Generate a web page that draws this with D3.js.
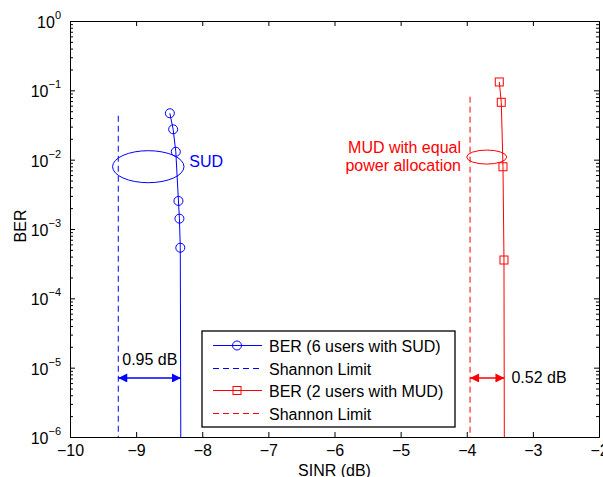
<!DOCTYPE html>
<html>
<head>
<meta charset="utf-8">
<script src="https://cdn.jsdelivr.net/npm/d3@7"></script>
<style>
  body { margin: 0; background: #fff; }
  text { font-family: "Liberation Sans", Arial, Helvetica, sans-serif; }
</style>
</head>
<body>
<div id="chart"></div>
<script>
// SUD curve (6 users)
var sudSinr = [-8.49, -8.44, -8.40, -8.36, -8.345, -8.332, -8.322];
var sudBer = [0.0467, 0.0274, 0.0130, 0.00254, 0.00141, 0.000537, 1e-7];
var sudMarked = 6; // points with markers
// MUD curve (2 users)
var mudSinr = [-3.508, -3.478, -3.452, -3.437, -3.430];
var mudBer = [0.132, 0.0672, 0.0079, 0.000357, 1e-7];
var mudMarked = 4;
// Shannon limits
var shannonSud = -9.27;
var shannonMud = -3.95;
var shannonSudTop = 0.043;
var shannonMudTop = 0.081;

var xTicks = [-10, -9, -8, -7, -6, -5, -4, -3, -2];
var yDecades = [0, -1, -2, -3, -4, -5, -6];

var legendLabels = ["BER (6 users with SUD)", "Shannon Limit", "BER (2 users with MUD)", "Shannon Limit"];

const w = 603;
const h = 477;
const pLeft = 70, pRight = 599, pTop = 21, pBottom = 437;
const fs = 16;

const svg = d3.select("#chart").append("svg")
    .attr("width", w)
    .attr("height", h);

const xScale = d3.scaleLinear().domain([-10, -2]).range([pLeft, pRight]);
const yScale = d3.scaleLog().domain([1e-6, 1]).range([pBottom, pTop]);

const blue = "#0000ff";
const red = "#ff0000";

svg.append("defs").append("clipPath").attr("id", "clip")
    .append("rect")
    .attr("x", pLeft).attr("y", pTop)
    .attr("width", pRight - pLeft).attr("height", pBottom - pTop);

// minor + major tick values for log axis
var yAll = [];
for (var k = -6; k < 0; k++) {
    for (var m = 1; m < 10; m++) yAll.push(m * Math.pow(10, k));
}
yAll.push(1);
var isMajor = (v) => Math.abs(Math.log10(v) - Math.round(Math.log10(v))) < 1e-9;

// Axes
svg.append("g")
    .attr("transform", "translate(0," + pBottom + ")")
    .call(d3.axisBottom(xScale).tickValues(xTicks).tickSize(-5).tickPadding(8).tickFormat(d => d === 0 ? "0" : "\u2212" + Math.abs(d)))
    .call(g => g.selectAll("text").attr("font-size", fs).attr("fill", "#000").attr("font-family", "Liberation Sans, Arial"));

svg.append("g")
    .attr("transform", "translate(0," + pTop + ")")
    .call(d3.axisTop(xScale).tickValues(xTicks).tickSize(-5).tickFormat(""));

svg.append("g")
    .attr("transform", "translate(" + pLeft + ",0)")
    .call(d3.axisLeft(yScale).tickValues(yAll).tickSize(0).tickFormat(""))
    .call(g => g.selectAll(".tick line").attr("x2", d => isMajor(d) ? 5 : 3));

svg.append("g")
    .attr("transform", "translate(" + pRight + ",0)")
    .call(d3.axisRight(yScale).tickValues(yAll).tickSize(0).tickFormat(""))
    .call(g => g.selectAll(".tick line").attr("x2", d => isMajor(d) ? -5 : -3));

svg.selectAll(".domain").attr("stroke", "#000");
svg.selectAll(".tick line").attr("stroke", "#000");

// y tick labels 10^k
var yl = svg.append("g").selectAll("text")
    .data(yDecades)
    .enter()
    .append("text")
    .attr("x", pLeft - 9)
    .attr("y", d => yScale(Math.pow(10, d)) + 7)
    .attr("text-anchor", "end")
    .attr("font-size", fs);
yl.append("tspan").text("10");
yl.append("tspan").attr("dy", -9).attr("font-size", 11).text(d => d === 0 ? "0" : "\u2212" + Math.abs(d));

// axis titles
svg.append("text")
    .attr("x", (pLeft + pRight) / 2)
    .attr("y", 476)
    .attr("text-anchor", "middle")
    .attr("font-size", fs)
    .text("SINR (dB)");

svg.append("text")
    .attr("transform", "translate(26," + ((pTop + pBottom) / 2 - 3) + ") rotate(-90)")
    .attr("text-anchor", "middle")
    .attr("font-size", fs)
    .text("BER");

const plot = svg.append("g").attr("clip-path", "url(#clip)");

const line = d3.line().x(d => xScale(d[0])).y(d => yScale(d[1]));

var sud = sudSinr.map((x, i) => [x, sudBer[i]]);
var mud = mudSinr.map((x, i) => [x, mudBer[i]]);

// Shannon limits
plot.append("line")
    .attr("x1", xScale(shannonSud)).attr("x2", xScale(shannonSud))
    .attr("y1", yScale(shannonSudTop)).attr("y2", yScale(1e-7))
    .attr("stroke", blue).attr("stroke-width", 1).attr("stroke-dasharray", "6,4");
plot.append("line")
    .attr("x1", xScale(shannonMud)).attr("x2", xScale(shannonMud))
    .attr("y1", yScale(shannonMudTop)).attr("y2", yScale(1e-7))
    .attr("stroke", red).attr("stroke-width", 1).attr("stroke-dasharray", "6,4");

// BER curves
plot.append("path").datum(sud).attr("d", line)
    .attr("fill", "none").attr("stroke", blue).attr("stroke-width", 1);
plot.append("path").datum(mud).attr("d", line)
    .attr("fill", "none").attr("stroke", red).attr("stroke-width", 1);

plot.selectAll(".sudpt")
    .data(sud.slice(0, sudMarked))
    .enter()
    .append("circle")
    .attr("class", "sudpt")
    .attr("cx", d => xScale(d[0]))
    .attr("cy", d => yScale(d[1]))
    .attr("r", 4.5)
    .attr("fill", "none").attr("stroke", blue);

plot.selectAll(".mudpt")
    .data(mud.slice(0, mudMarked))
    .enter()
    .append("rect")
    .attr("class", "mudpt")
    .attr("x", d => xScale(d[0]) - 4)
    .attr("y", d => yScale(d[1]) - 4)
    .attr("width", 8).attr("height", 8)
    .attr("fill", "none").attr("stroke", red);

// Annotations: ellipses
svg.append("ellipse")
    .attr("cx", xScale(-8.816)).attr("cy", yScale(0.00792))
    .attr("rx", 35.7).attr("ry", 16)
    .attr("fill", "none").attr("stroke", blue);
svg.append("text")
    .attr("x", xScale(-8.816) + 41).attr("y", yScale(0.00792) + 0.5)
    .attr("fill", blue).attr("font-size", fs)
    .text("SUD");

svg.append("ellipse")
    .attr("cx", xScale(-3.698)).attr("cy", yScale(0.0109))
    .attr("rx", 20).attr("ry", 7)
    .attr("fill", "none").attr("stroke", red);
var mt = svg.append("text")
    .attr("text-anchor", "end")
    .attr("fill", red).attr("font-size", fs);
mt.append("tspan").attr("x", 461).attr("y", 153).text("MUD with equal");
mt.append("tspan").attr("x", 461).attr("y", 171).text("power allocation");

// Gap arrows
var defs = svg.select("defs");
[["ab", blue], ["ar", red]].forEach(([id, c]) => {
    defs.append("marker")
        .attr("id", id)
        .attr("viewBox", "0 0 10 10")
        .attr("refX", 10).attr("refY", 5)
        .attr("markerWidth", 11).attr("markerHeight", 9)
        .attr("markerUnits", "userSpaceOnUse")
        .attr("orient", "auto-start-reverse")
        .append("path").attr("d", "M0,0L10,5L0,10Z").attr("fill", c);
});

var arrowY = 7.1e-6;
svg.append("line")
    .attr("x1", xScale(shannonSud)).attr("x2", xScale(-8.322))
    .attr("y1", yScale(arrowY)).attr("y2", yScale(arrowY))
    .attr("stroke", blue).attr("stroke-width", 1.5)
    .attr("marker-start", "url(#ab)").attr("marker-end", "url(#ab)");
svg.append("text")
    .attr("x", xScale(shannonSud) + 4).attr("y", yScale(arrowY) - 13)
    .attr("font-size", fs).text("0.95 dB");

svg.append("line")
    .attr("x1", xScale(shannonMud)).attr("x2", xScale(-3.430))
    .attr("y1", yScale(arrowY)).attr("y2", yScale(arrowY))
    .attr("stroke", red).attr("stroke-width", 1.5)
    .attr("marker-start", "url(#ar)").attr("marker-end", "url(#ar)");
svg.append("text")
    .attr("x", xScale(-3.430) + 7).attr("y", yScale(arrowY) + 5)
    .attr("font-size", fs).text("0.52 dB");

// Legend
const lg = svg.append("g").attr("transform", "translate(202,331)");
lg.append("rect")
    .attr("width", 253).attr("height", 96)
    .attr("fill", "#fff").attr("stroke", "#000").attr("stroke-width", 1.3);
var legendStyles = [
    { c: blue, dash: null, mk: "circle" },
    { c: blue, dash: "6,4", mk: null },
    { c: red, dash: null, mk: "square" },
    { c: red, dash: "6,4", mk: null }
];
legendLabels.forEach((t, i) => {
    var y = Math.round(14 + i * 22.5) + 0.5;
    var s = legendStyles[i];
    lg.append("line")
        .attr("x1", 11).attr("x2", 60).attr("y1", y).attr("y2", y)
        .attr("stroke", s.c).attr("stroke-dasharray", s.dash);
    if (s.mk === "circle") {
        lg.append("circle").attr("cx", 35).attr("cy", y).attr("r", 4.5)
            .attr("fill", "none").attr("stroke", s.c);
    } else if (s.mk === "square") {
        lg.append("rect").attr("x", 31).attr("y", y - 4).attr("width", 8).attr("height", 8)
            .attr("fill", "none").attr("stroke", s.c);
    }
    lg.append("text").attr("x", 67).attr("y", y + 6)
        .attr("font-size", fs).text(t);
});
</script>
</body>
</html>
